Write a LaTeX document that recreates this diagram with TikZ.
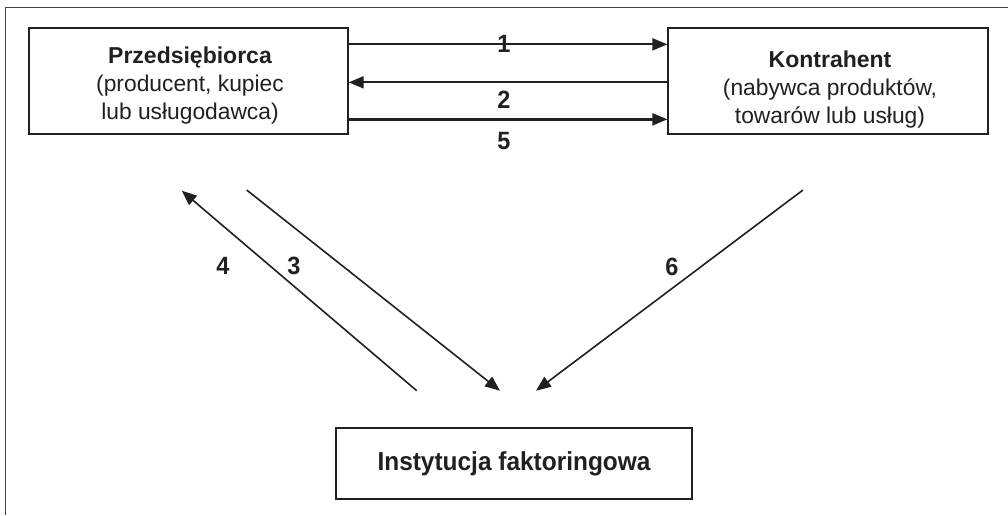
\documentclass[tikz,border=0pt]{standalone}
\usepackage{fontspec}
\setmainfont{Liberation Sans}
\newfontfamily\cbf{Liberation Sans}[FakeStretch=0.94]
\usetikzlibrary{arrows.meta}
\definecolor{ink}{RGB}{35,31,32}
\begin{document}
\begin{tikzpicture}[x=1pt,y=-1pt,
  box/.style={draw=ink, line width=1.3pt, rectangle, inner sep=0pt},
  txt/.style={text=ink, align=center, inner sep=0pt, font=\fontsize{22.8}{28}\selectfont},
  num/.style={text=ink, inner sep=0pt, font=\cbf\bfseries\fontsize{25}{30}\selectfont},
  arr/.style={draw=ink, line width=1.8pt, -{Triangle[length=15pt,width=12pt]}},
  frame/.style={draw=ink!85, line width=1.3pt}]
\useasboundingbox (0,0) rectangle (1008,515);
% outer frame
\draw[frame] (5.7,515) -- (5.7,7.3) -- (1008,7.3);
% boxes
\node[box, minimum width=319pt, minimum height=106pt] (L) at (188.5,81) {};
\node[box, minimum width=320pt, minimum height=106pt] (R) at (828,81) {};
\node[box, minimum width=356pt, minimum height=71pt, text=ink,
      font=\cbf\bfseries\fontsize{26}{30}\selectfont] (F) at (514,463.5) {Instytucja faktoringowa};
% box texts
\node[txt] (Lt) at (190,86) {{\bfseries\fontsize{23}{28}\selectfont Przedsiębiorca}\\(producent, kupiec\\lub usługodawca)};
\node[txt] (Rt) at (830,90) {{\bfseries\fontsize{23}{28}\selectfont Kontrahent}\\(nabywca produktów,\\towarów lub usług)};
% horizontal arrows
\draw[arr] ([yshift=-17pt]L.north east) -- ([yshift=-17pt]R.north west);
\draw[arr] ([yshift=-55pt]R.north west) -- ([yshift=-55pt]L.north east);
\draw[arr, line width=2.3pt] ([yshift=-92pt]L.north east) -- ([yshift=-92pt]R.north west);
% diagonal arrows
\coordinate (a4s) at (416.7,390.7);
\coordinate (a4e) at (181.7,190.7);
\coordinate (a3s) at (246.7,190);
\coordinate (a3e) at (500,390.7);
\coordinate (a6s) at (803,190);
\coordinate (a6e) at (536,390.7);
\draw[arr, line width=1.6pt] (a4s) -- (a4e);
\draw[arr, line width=1.6pt] (a3s) -- (a3e);
\draw[arr, line width=1.6pt] (a6s) -- (a6e);
% labels
\node[num] (n1) at (504,44) {1};
\node[num] (n2) at (504,99.7) {2};
\node[num] (n5) at (504,141.5) {5};
\node[num] (n4) at (223,266) {4};
\node[num] (n3) at (294,266) {3};
\node[num] (n6) at (672,266.5) {6};
\end{tikzpicture}
\end{document}
